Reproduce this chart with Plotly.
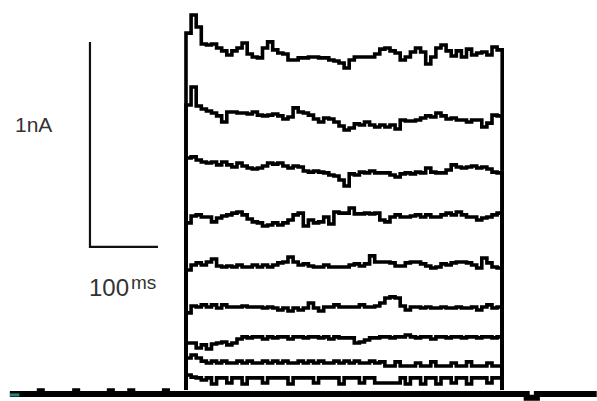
import plotly.graph_objects as go

# time grid of the sweeps (ms after step onset)
T_MS = [0, 7.5, 15, 22.5, 30, 37.5, 45, 52.5, 60, 67.5, 75, 82.5, 90, 97.5, 105,
        112.5, 120, 127.5, 135, 142.5, 150, 157.5, 165, 172.5, 180, 187.5, 195,
        202.5, 210, 217.5, 225, 232.5, 240, 247.5, 255, 262.5, 270, 277.5, 285,
        292.5, 300, 307.5, 315, 322.5, 330, 337.5, 345, 352.5, 360, 367.5, 375,
        382.5, 390, 397.5, 405, 412.5, 420, 427.5, 435, 442.5, 450, 457.5, 465]

# current sweeps (nA), top to bottom
sweep1 = [1.741, 1.829, 1.771, 1.688, 1.683, 1.688, 1.668, 1.654, 1.634, 1.654,
          1.668, 1.693, 1.639, 1.624, 1.620, 1.668, 1.698, 1.659, 1.644, 1.639,
          1.610, 1.610, 1.620, 1.620, 1.624, 1.624, 1.620, 1.620, 1.610, 1.605,
          1.595, 1.571, 1.610, 1.624, 1.624, 1.624, 1.624, 1.639, 1.663, 1.668,
          1.654, 1.644, 1.610, 1.624, 1.649, 1.668, 1.649, 1.590, 1.624, 1.668,
          1.683, 1.654, 1.629, 1.654, 1.624, 1.663, 1.634, 1.644, 1.649, 1.634,
          1.673, 1.659, 1.639]
sweep2 = [1.390, 1.478, 1.385, 1.371, 1.361, 1.351, 1.337, 1.307, 1.356, 1.356,
          1.351, 1.351, 1.346, 1.356, 1.341, 1.337, 1.341, 1.346, 1.337, 1.322,
          1.332, 1.376, 1.356, 1.351, 1.341, 1.322, 1.307, 1.327, 1.322, 1.307,
          1.288, 1.268, 1.278, 1.298, 1.293, 1.307, 1.293, 1.283, 1.293, 1.283,
          1.293, 1.273, 1.317, 1.312, 1.312, 1.317, 1.327, 1.337, 1.332, 1.351,
          1.337, 1.322, 1.327, 1.317, 1.317, 1.307, 1.317, 1.317, 1.283, 1.302,
          1.341, 1.337, 1.307]
sweep3 = [1.132, 1.137, 1.122, 1.112, 1.107, 1.112, 1.098, 1.112, 1.098, 1.088,
          1.107, 1.093, 1.083, 1.078, 1.083, 1.093, 1.107, 1.102, 1.107, 1.093,
          1.083, 1.093, 1.088, 1.068, 1.063, 1.068, 1.063, 1.059, 1.049, 1.044,
          1.024, 0.995, 1.054, 1.049, 1.063, 1.059, 1.068, 1.059, 1.059, 1.059,
          1.049, 1.039, 1.054, 1.059, 1.054, 1.063, 1.059, 1.083, 1.063, 1.059,
          1.059, 1.073, 1.098, 1.088, 1.083, 1.088, 1.093, 1.083, 1.088, 1.078,
          1.063, 1.059, 1.059]
sweep4 = [0.815, 0.849, 0.854, 0.844, 0.844, 0.820, 0.839, 0.849, 0.854, 0.863,
          0.868, 0.854, 0.834, 0.820, 0.815, 0.800, 0.805, 0.815, 0.805, 0.815,
          0.829, 0.854, 0.863, 0.800, 0.829, 0.815, 0.820, 0.844, 0.810, 0.868,
          0.863, 0.863, 0.888, 0.859, 0.859, 0.863, 0.859, 0.863, 0.829, 0.820,
          0.844, 0.854, 0.844, 0.844, 0.849, 0.854, 0.844, 0.854, 0.844, 0.844,
          0.854, 0.863, 0.854, 0.868, 0.854, 0.844, 0.844, 0.829, 0.839, 0.844,
          0.854, 0.863, 0.844]
sweep5 = [0.585, 0.610, 0.620, 0.610, 0.624, 0.639, 0.605, 0.600, 0.605, 0.600,
          0.610, 0.600, 0.600, 0.610, 0.600, 0.610, 0.600, 0.610, 0.620, 0.624,
          0.649, 0.624, 0.610, 0.615, 0.605, 0.600, 0.600, 0.610, 0.600, 0.600,
          0.600, 0.600, 0.610, 0.615, 0.605, 0.615, 0.654, 0.624, 0.624, 0.624,
          0.620, 0.605, 0.605, 0.620, 0.624, 0.624, 0.615, 0.605, 0.595, 0.600,
          0.615, 0.610, 0.620, 0.624, 0.624, 0.620, 0.610, 0.595, 0.644, 0.620,
          0.600, 0.595, 0.585]
sweep6 = [0.376, 0.410, 0.405, 0.415, 0.405, 0.415, 0.400, 0.415, 0.405, 0.405,
          0.405, 0.410, 0.405, 0.405, 0.405, 0.400, 0.405, 0.400, 0.390, 0.400,
          0.385, 0.400, 0.390, 0.400, 0.424, 0.400, 0.385, 0.405, 0.405, 0.415,
          0.405, 0.405, 0.405, 0.405, 0.415, 0.405, 0.405, 0.410, 0.424, 0.449,
          0.454, 0.449, 0.410, 0.390, 0.405, 0.405, 0.400, 0.405, 0.400, 0.400,
          0.405, 0.400, 0.400, 0.405, 0.400, 0.400, 0.405, 0.390, 0.405, 0.415,
          0.400, 0.405, 0.405]
sweep7 = [0.229, 0.229, 0.205, 0.220, 0.200, 0.224, 0.229, 0.234, 0.220, 0.229,
          0.249, 0.259, 0.254, 0.259, 0.259, 0.249, 0.259, 0.254, 0.259, 0.259,
          0.249, 0.259, 0.259, 0.254, 0.259, 0.259, 0.254, 0.259, 0.249, 0.259,
          0.254, 0.254, 0.254, 0.229, 0.234, 0.244, 0.254, 0.254, 0.259, 0.259,
          0.254, 0.259, 0.259, 0.268, 0.259, 0.254, 0.259, 0.259, 0.249, 0.259,
          0.259, 0.254, 0.259, 0.259, 0.254, 0.259, 0.259, 0.254, 0.259, 0.259,
          0.254, 0.259, 0.268]
sweep8 = [0.156, 0.171, 0.156, 0.141, 0.132, 0.141, 0.132, 0.141, 0.132, 0.132,
          0.141, 0.132, 0.141, 0.132, 0.132, 0.141, 0.132, 0.141, 0.132, 0.141,
          0.132, 0.132, 0.141, 0.132, 0.141, 0.132, 0.141, 0.132, 0.132, 0.141,
          0.132, 0.141, 0.132, 0.141, 0.132, 0.132, 0.141, 0.132, 0.137, 0.117,
          0.117, 0.137, 0.117, 0.117, 0.117, 0.132, 0.117, 0.117, 0.137, 0.117,
          0.117, 0.117, 0.132, 0.117, 0.117, 0.137, 0.117, 0.117, 0.117, 0.132,
          0.117, 0.117, 0.117]
sweep9 = [0.073, 0.063, 0.059, 0.049, 0.059, 0.029, 0.059, 0.059, 0.034, 0.059,
          0.059, 0.029, 0.059, 0.059, 0.059, 0.034, 0.059, 0.059, 0.059, 0.059,
          0.029, 0.059, 0.059, 0.059, 0.059, 0.034, 0.059, 0.059, 0.059, 0.059,
          0.029, 0.059, 0.059, 0.059, 0.034, 0.059, 0.059, 0.034, 0.034, 0.034,
          0.034, 0.034, 0.059, 0.029, 0.059, 0.059, 0.029, 0.059, 0.059, 0.029,
          0.059, 0.059, 0.034, 0.059, 0.059, 0.029, 0.059, 0.059, 0.059, 0.034,
          0.059, 0.059, 0.059]
SWEEPS = [sweep1, sweep2, sweep3, sweep4, sweep5, sweep6, sweep7, sweep8, sweep9]

# holding baseline recorded around the step (ms, nA)
baseline_t = [-259, -215, -212, -163, -160, -112, -109, -82, -79, -31, -28,
              465, 501, 516, 604]
baseline_i = [-0.02, -0.006, -0.02, -0.006, -0.02, -0.006, -0.02, -0.006,
              -0.02, -0.006, -0.02, -0.02, -0.038, -0.02, -0.02]

# scale bar lengths
SCALE_NA = 1.0
SCALE_MS = 100.0
SCALE_LABEL_I = "1nA"
SCALE_LABEL_T_NUM = "100"
SCALE_LABEL_T_UNIT = "ms"

W, H = 597, 401
X_RANGE = [-273.5, 604.4]
Y_RANGE = [-0.0537, 1.9024]
BAR_T0, BAR_I0 = -141.2, 0.698

fig = go.Figure()

fig.add_trace(go.Scatter(x=baseline_t, y=baseline_i, mode="lines",
                         line=dict(color="#000", width=6, shape="hv"),
                         hoverinfo="skip", showlegend=False))
fig.add_trace(go.Scatter(x=[-259, -245], y=[-0.024, -0.024], mode="lines",
                         line=dict(color="#1f8a7c", width=3),
                         hoverinfo="skip", showlegend=False))

for s in SWEEPS:
    xs = [T_MS[0]] + T_MS + [T_MS[-1]]
    ys = [0.0] + s + [0.0]
    fig.add_trace(go.Scatter(x=xs, y=ys, mode="lines",
                             line=dict(color="#000", width=3.6, shape="hv"),
                             hoverinfo="skip", showlegend=False))

# scale bar
fig.add_trace(go.Scatter(x=[BAR_T0, BAR_T0, BAR_T0 + SCALE_MS],
                         y=[BAR_I0 + SCALE_NA, BAR_I0, BAR_I0],
                         mode="lines", line=dict(color="#111", width=2.2),
                         hoverinfo="skip", showlegend=False))

FONT = "Liberation Sans, Arial, sans-serif"
fig.add_annotation(x=33 / W, y=1 - 124 / H, xref="paper", yref="paper",
                   xanchor="center", yanchor="middle",
                   text=SCALE_LABEL_I, showarrow=False,
                   font=dict(family=FONT, size=21, color="#333"))
fig.add_annotation(x=109 / W, y=1 - 287 / H, xref="paper", yref="paper",
                   xanchor="center", yanchor="middle",
                   text=SCALE_LABEL_T_NUM, showarrow=False,
                   font=dict(family=FONT, size=24, color="#333"))
fig.add_annotation(x=143 / W, y=1 - 282 / H, xref="paper", yref="paper",
                   xanchor="center", yanchor="middle",
                   text=SCALE_LABEL_T_UNIT, showarrow=False,
                   font=dict(family=FONT, size=19, color="#333"))

fig.update_layout(width=W, height=H, margin=dict(l=0, r=0, t=0, b=0),
                  paper_bgcolor="white", plot_bgcolor="white",
                  xaxis=dict(range=X_RANGE, visible=False, fixedrange=True),
                  yaxis=dict(range=Y_RANGE, visible=False, fixedrange=True))

fig.write_html("out.html", config={"displayModeBar": False},
               post_script="document.body.style.margin='0';"
                           "document.body.style.overflow='hidden';")
